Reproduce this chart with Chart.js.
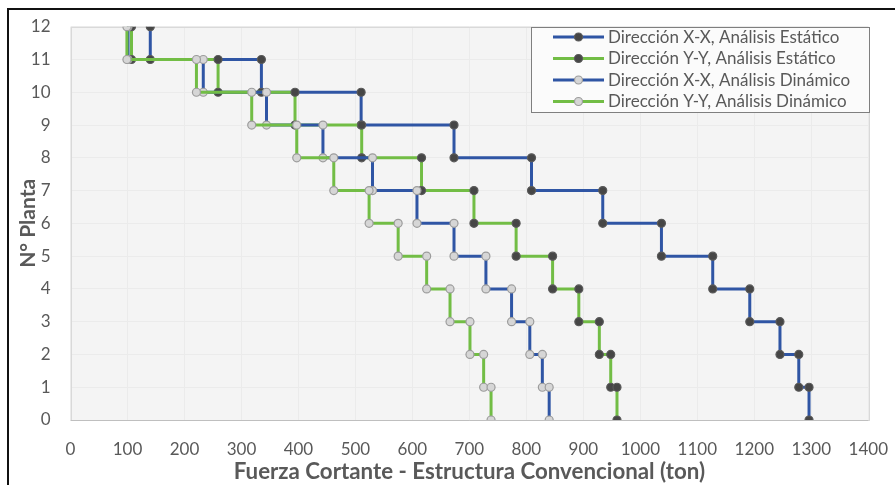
<!DOCTYPE html>
<html>
<head>
<meta charset="utf-8">
<script src="https://cdn.jsdelivr.net/npm/chart.js@4.4.1/dist/chart.umd.min.js"></script>
<style>
html,body{margin:0;padding:0;background:#ffffff;}
#wrap{position:relative;width:895px;height:485px;}
canvas{display:block;}
</style>
</head>
<body>
<div id="wrap"><canvas id="c" width="895" height="485"></canvas></div>
<script>
// ---- data ----
const floors = [12, 11, 10, 9, 8, 7, 6, 5, 4, 3, 2, 1];
const seriesNames = [
  'Dirección X-X, Análisis Estático',
  'Dirección Y-Y, Análisis Estático',
  'Dirección X-X, Análisis Dinámico',
  'Dirección Y-Y, Análisis Dinámico'
];
const xxStatic  = [140, 335, 510, 673, 809, 934, 1037, 1127, 1192, 1245, 1278, 1296];
const yyStatic  = [107, 259, 394, 511, 616, 708, 782, 846, 892, 928, 948, 959];
const xxDynamic = [101, 233, 344, 443, 530, 608, 673, 729, 774, 806, 828, 840];
const yyDynamic = [99, 221, 318, 397, 462, 524, 575, 625, 666, 701, 725, 738];
const xTickValues = [0, 100, 200, 300, 400, 500, 600, 700, 800, 900, 1000, 1100, 1200, 1300, 1400];
const yTickValues = [0, 1, 2, 3, 4, 5, 6, 7, 8, 9, 10, 11, 12];

// ---- styles ----
const BLUE = '#2F55A4';
const GREEN = '#72BD45';
const DARK_FILL = '#464646', DARK_BORDER = '#5a5a5a';
const LIGHT_FILL = '#d6d6d6', LIGHT_BORDER = '#9c9c9c';
const TXT = '#595959';
const FONT = 'Lato';

function steps(vals) {
  const pts = [];
  vals.forEach((v, i) => {
    pts.push({x: v, y: floors[i]});
    pts.push({x: v, y: floors[i] - 1});
  });
  return pts;
}

function ds(label, vals, color, fill, border, order) {
  return {
    label: label,
    data: steps(vals),
    showLine: true,
    borderColor: color,
    borderWidth: 3,
    pointRadius: 4,
    pointBorderWidth: 1.2,
    pointBackgroundColor: fill,
    pointBorderColor: border,
    order: order,
    tension: 0
  };
}

const datasets = [
  ds(seriesNames[0], xxStatic, BLUE, DARK_FILL, DARK_BORDER, 4),
  ds(seriesNames[1], yyStatic, GREEN, DARK_FILL, DARK_BORDER, 3),
  ds(seriesNames[2], xxDynamic, BLUE, LIGHT_FILL, LIGHT_BORDER, 2),
  ds(seriesNames[3], yyDynamic, GREEN, LIGHT_FILL, LIGHT_BORDER, 1)
];

const bgPlugin = {
  id: 'bg',
  beforeDraw(chart) {
    const ctx = chart.ctx, a = chart.chartArea;
    ctx.save();
    ctx.fillStyle = '#ffffff';
    ctx.fillRect(0, 0, chart.width, chart.height);
    ctx.fillStyle = '#f4f4f4';
    ctx.fillRect(a.left, a.top, a.right - a.left, a.bottom - a.top);
    // outer frame (left and top edges of the original picture)
    ctx.fillStyle = '#111111';
    ctx.fillRect(7, 8, 895 - 7, 2);
    ctx.fillRect(7, 8, 2, 485 - 8);
    ctx.restore();
  },
  beforeDatasetsDraw(chart) {
    const ctx = chart.ctx, a = chart.chartArea;
    ctx.save();
    ctx.strokeStyle = '#d9d9d9';
    ctx.lineWidth = 1;
    ctx.strokeRect(Math.round(a.left) + 0.5, Math.round(a.top) + 0.5, Math.round(a.right - a.left), Math.round(a.bottom - a.top));
    ctx.strokeStyle = '#bfbfbf';
    ctx.beginPath();
    ctx.moveTo(a.left, Math.round(a.bottom) + 0.5);
    ctx.lineTo(a.right, Math.round(a.bottom) + 0.5);
    ctx.stroke();
    ctx.restore();
  }
};

const legendPlugin = {
  id: 'boxLegend',
  afterDraw(chart) {
    const ctx = chart.ctx;
    const bx = 531.5, by = 27.5, bw = 338, bh = 85;
    ctx.save();
    ctx.fillStyle = '#fbfbfb';
    ctx.fillRect(bx, by, bw, bh);
    ctx.strokeStyle = '#7f7f7f';
    ctx.lineWidth = 1;
    ctx.strokeRect(bx, by, bw, bh);
    const rows = [37, 58.5, 80, 101.5];
    const styles = [
      [BLUE, DARK_FILL, DARK_BORDER],
      [GREEN, DARK_FILL, DARK_BORDER],
      [BLUE, LIGHT_FILL, LIGHT_BORDER],
      [GREEN, LIGHT_FILL, LIGHT_BORDER]
    ];
    seriesNames.forEach((name, i) => {
      const y = rows[i];
      const [lc, pf, pb] = styles[i];
      ctx.strokeStyle = lc;
      ctx.lineWidth = 3;
      ctx.beginPath();
      ctx.moveTo(553, y);
      ctx.lineTo(604, y);
      ctx.stroke();
      ctx.beginPath();
      ctx.arc(578.5, y, 4, 0, Math.PI * 2);
      ctx.fillStyle = pf;
      ctx.fill();
      ctx.lineWidth = 1.2;
      ctx.strokeStyle = pb;
      ctx.stroke();
      ctx.fillStyle = TXT;
      ctx.font = '17px ' + FONT;
      ctx.textAlign = 'left';
      ctx.textBaseline = 'middle';
      ctx.fillText(name, 608, y + 0.5);
    });
    ctx.restore();
  }
};

new Chart(document.getElementById('c'), {
  type: 'scatter',
  data: { datasets: datasets },
  plugins: [bgPlugin, legendPlugin],
  options: {
    responsive: false,
    devicePixelRatio: 1,
    animation: false,
    layout: { padding: { left: 0, right: 26.7, top: 26.7, bottom: 0 } },
    plugins: {
      legend: { display: false },
      tooltip: { enabled: false }
    },
    scales: {
      x: {
        type: 'linear',
        min: 0, max: 1400,
        afterBuildTicks(scale) { scale.ticks = xTickValues.map(v => ({value: v})); },
        afterFit(scale) { scale.height = 65; scale.paddingLeft = 0; scale.paddingRight = 0; },
        grid: { color: '#ebebeb', drawTicks: false },
        border: { display: false },
        ticks: { color: TXT, font: { family: FONT, size: 17 }, padding: 19, maxRotation: 0, autoSkip: false,
                 callback: v => String(v) },
        title: {
          display: true,
          text: 'Fuerza Cortante - Estructura Convencional (ton)',
          color: TXT,
          font: { family: FONT, size: 22.3, weight: 'bold' },
          padding: { top: 0, bottom: 0 }
        }
      },
      y: {
        type: 'linear',
        min: 0, max: 12,
        afterBuildTicks(scale) { scale.ticks = yTickValues.map(v => ({value: v})); },
        afterFit(scale) { scale.width = 70.5; scale.paddingTop = 0; scale.paddingBottom = 0; },
        grid: { color: '#ebebeb', drawTicks: false },
        border: { display: false },
        ticks: { color: TXT, font: { family: FONT, size: 17 }, padding: 20, autoSkip: false,
                 callback: v => String(v) },
        title: {
          display: true,
          text: 'N° Planta',
          color: TXT,
          font: { family: FONT, size: 21, weight: 'bold' },
          padding: { top: 16, bottom: 0 }
        }
      }
    }
  }
});
</script>
</body>
</html>
